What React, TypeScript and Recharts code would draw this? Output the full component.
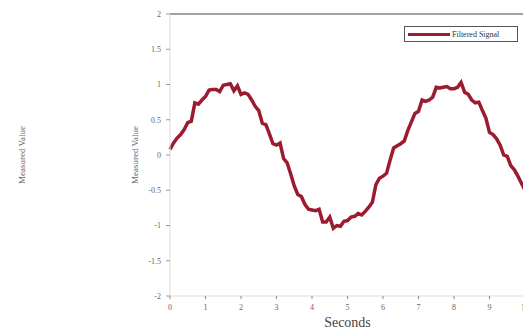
import { LineChart, Line, XAxis, YAxis } from 'recharts';

// time in seconds, 0.1 s steps
const seconds = Array.from({ length: 101 }, (_, i) => i / 10);

// filtered signal
const filtered = [
  0.08, 0.17, 0.24, 0.29, 0.36, 0.46, 0.48, 0.74, 0.72, 0.78,
  0.83, 0.92, 0.93, 0.93, 0.9, 0.99, 1.0, 1.01, 0.91, 0.98,
  0.86, 0.88, 0.86, 0.78, 0.69, 0.63, 0.45, 0.43, 0.3, 0.16,
  0.14, 0.17, -0.05, -0.11, -0.27, -0.44, -0.56, -0.59, -0.7, -0.77,
  -0.78, -0.79, -0.77, -0.95, -0.95, -0.88, -1.04, -1.0, -1.01, -0.94,
  -0.93, -0.88, -0.87, -0.83, -0.85, -0.8, -0.74, -0.67, -0.42, -0.33,
  -0.3, -0.26, -0.07, 0.1, 0.13, 0.16, 0.2, 0.35, 0.47, 0.59,
  0.62, 0.78, 0.76, 0.78, 0.82, 0.96, 0.95, 0.96, 0.97, 0.94,
  0.94, 0.96, 1.03, 0.89, 0.86, 0.78, 0.74, 0.75, 0.63, 0.52,
  0.32, 0.29, 0.23, 0.14, 0.0, -0.02, -0.15, -0.21, -0.3, -0.4,
  -0.5,
];

const xTicks = [0, 1, 2, 3, 4, 5, 6, 7, 8, 9, 10];
const yTicks = [-2, -1.5, -1, -0.5, 0, 0.5, 1, 1.5, 2];
const seriesName = 'Filtered Signal';

const data = seconds.map((t, i) => ({ t, v: filtered[i] }));

const FONT = '"Liberation Serif", "DejaVu Serif", serif';
const RED = '#9b1b30';

export default function App() {
  return (
    <div style={{ position: 'absolute', left: 0, top: 0, width: 523, height: 331, overflow: 'hidden', background: '#fff' }}>
      <div
        style={{
          position: 'absolute',
          left: 22,
          top: 155,
          transform: 'translate(-50%, -50%) rotate(-90deg)',
          fontFamily: FONT,
          fontSize: 9,
          color: '#666',
          whiteSpace: 'nowrap',
        }}
      >
        Measured Value
      </div>
      <LineChart width={560} height={331} data={data} margin={{ top: 14, right: 5, bottom: 0, left: 110 }}>
        <XAxis
          xAxisId="top"
          orientation="top"
          dataKey="t"
          type="number"
          domain={[0, 10]}
          ticks={xTicks}
          height={1}
          tick={false}
          tickSize={3}
          mirror
          axisLine={{ stroke: '#444', strokeWidth: 1 }}
          tickLine={{ stroke: '#999' }}
        />
        <XAxis
          dataKey="t"
          type="number"
          domain={[0, 10]}
          ticks={xTicks}
          height={35}
          interval={0}
          tickSize={3}
          tickMargin={5}
          tick={{ fill: '#666', fontSize: 8, fontFamily: FONT }}
          axisLine={{ stroke: '#ddd' }}
          tickLine={{ stroke: '#888' }}
          label={{ value: 'Seconds', position: 'insideBottom', offset: 4, fill: '#444', fontSize: 14, fontFamily: FONT }}
        />
        <YAxis
          type="number"
          domain={[-2, 2]}
          ticks={yTicks}
          width={60}
          interval={0}
          tickSize={4}
          tickMargin={5}
          tick={{ fill: '#666', fontSize: 8, fontFamily: FONT }}
          axisLine={{ stroke: '#ddd' }}
          tickLine={{ stroke: '#999' }}
          label={{ value: 'Measured Value', angle: -90, position: 'insideLeft', offset: 25, fill: '#666', fontSize: 9, fontFamily: FONT, style: { textAnchor: 'middle' } }}
        />
        <YAxis
          yAxisId="right"
          orientation="right"
          type="number"
          domain={[-2, 2]}
          ticks={yTicks}
          width={30}
          tick={false}
          tickSize={4}
          axisLine={{ stroke: '#ddd' }}
          tickLine={{ stroke: '#999' }}
        />
        <Line
          type="linear"
          dataKey="v"
          name={seriesName}
          stroke={RED}
          strokeWidth={3.5}
          dot={false}
          isAnimationActive={false}
        />
      </LineChart>
      <div
        style={{
          position: 'absolute',
          left: 404,
          top: 26,
          border: '1px solid #555',
          background: '#fff',
          width: 114,
          height: 16,
          display: 'flex',
          alignItems: 'center',
          fontFamily: FONT,
          fontSize: 8,
          color: '#333',
          boxSizing: 'border-box',
        }}
      >
        <span style={{ display: 'inline-block', width: 42, height: 3, background: RED, marginLeft: 3, marginRight: 2 }} />
        <span>{seriesName}</span>
      </div>
    </div>
  );
}
